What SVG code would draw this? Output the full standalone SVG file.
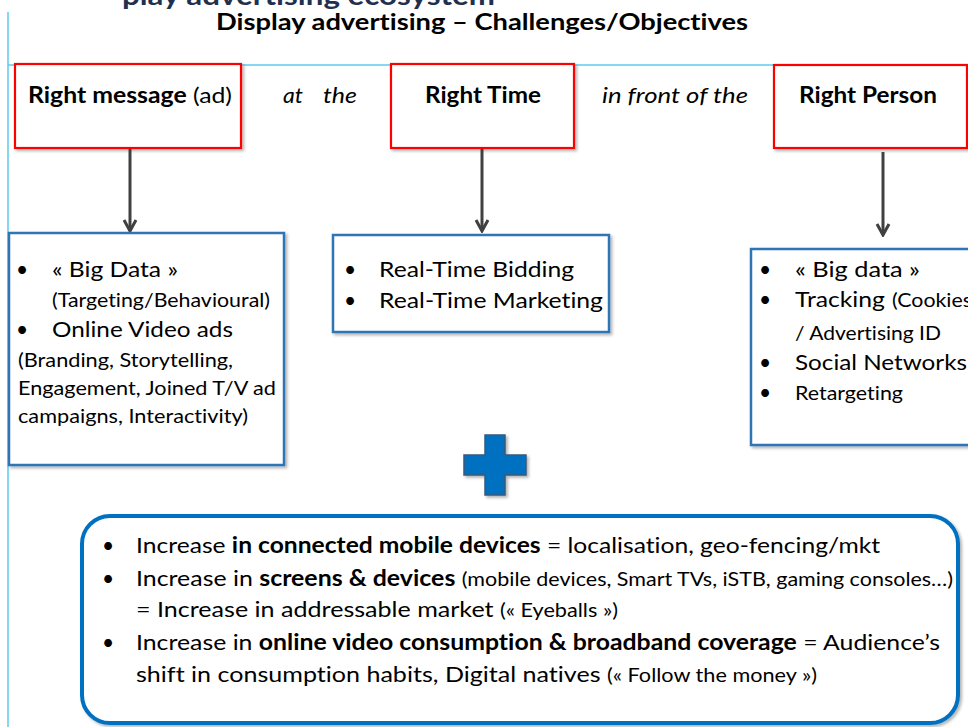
<svg xmlns="http://www.w3.org/2000/svg" width="968" height="727" viewBox="0 0 968 727">
<style>
text{font-family:"Lato","Liberation Sans",sans-serif;fill:#000;font-variant-ligatures:none;}
.b{font-weight:bold;}
.i{font-style:italic;}
.red{fill:#fff;stroke:#ff0000;stroke-width:2.2;}
.blue{fill:#fff;stroke:#2e75b6;stroke-width:2.5;}
.conn{stroke:#404040;stroke-width:3;fill:none;}
.guide{stroke:#5ccbf0;stroke-width:1.5;fill:none;}
.sm{font-size:18px;}
</style>
<defs>
<filter id="sh" x="-5%" y="-5%" width="115%" height="120%">
<feDropShadow dx="2" dy="2" stdDeviation="1.5" flood-color="#000" flood-opacity="0.3"/>
</filter>
<marker id="ah" viewBox="-14 -8 16 16" markerWidth="16" markerHeight="16" refX="0" refY="0" orient="auto" markerUnits="userSpaceOnUse">
<path d="M-11,-6 L0,0 L-11,6" fill="none" stroke="#404040" stroke-width="3"/>
</marker>
</defs>
<rect x="0" y="0" width="968" height="727" fill="#fff"/>

<!-- cut-off heading (as in the reference) and guides -->
<text x="122" y="5" class="b" font-size="26" style="fill:#1f3050" textLength="373" lengthAdjust="spacingAndGlyphs">play advertising ecosystem</text>
<line class="guide" x1="8" y1="12" x2="8" y2="727"/>
<line class="guide" x1="8" y1="65" x2="775" y2="65"/>

<g id="title">
<text x="216" y="30" class="b" font-size="23" textLength="532" lengthAdjust="spacingAndGlyphs">Display advertising – Challenges/Objectives</text>
</g>

<g id="right-message">
<rect class="red" x="15" y="64" width="226" height="84" filter="url(#sh)"/>
<text x="28" y="103" font-size="22" textLength="204" lengthAdjust="spacingAndGlyphs"><tspan class="b">Right message</tspan> (ad)</text>
</g>
<g id="label-at-the">
<text x="283" y="103" class="i" font-size="21" textLength="20" lengthAdjust="spacingAndGlyphs">at</text>
<text x="323" y="103" class="i" font-size="21" textLength="34" lengthAdjust="spacingAndGlyphs">the</text>
</g>
<g id="right-time">
<rect class="red" x="391" y="64" width="183" height="84" filter="url(#sh)"/>
<text x="425" y="103" class="b" font-size="22" textLength="116" lengthAdjust="spacingAndGlyphs">Right Time</text>
</g>
<g id="label-in-front">
<text x="602" y="103" class="i" font-size="21" textLength="146" lengthAdjust="spacingAndGlyphs">in front of the</text>
</g>
<g id="right-person">
<rect class="red" x="774" y="65" width="193" height="83" filter="url(#sh)"/>
<text x="799" y="103" class="b" font-size="22" textLength="138" lengthAdjust="spacingAndGlyphs">Right Person</text>
</g>

<g id="connectors">
<line class="conn" x1="130" y1="149" x2="130" y2="231" marker-end="url(#ah)"/>
<line class="conn" x1="482" y1="149" x2="482" y2="231" marker-end="url(#ah)"/>
<line class="conn" x1="883" y1="152" x2="883" y2="235" marker-end="url(#ah)"/>
</g>

<g id="message-box">
<rect class="blue" x="9" y="233" width="275" height="232" filter="url(#sh)"/>
<text x="22" y="277" font-size="21" text-anchor="middle">•</text>
<text x="52" y="277" font-size="21" textLength="126" lengthAdjust="spacingAndGlyphs">« Big Data »</text>
<text x="52" y="307" font-size="19" textLength="218" lengthAdjust="spacingAndGlyphs">(Targeting/Behavioural)</text>
<text x="22" y="337" font-size="21" text-anchor="middle">•</text>
<text x="52" y="337" font-size="22" textLength="181" lengthAdjust="spacingAndGlyphs">Online Video ads</text>
<text x="18" y="367" font-size="19" textLength="215" lengthAdjust="spacingAndGlyphs">(Branding, Storytelling,</text>
<text x="18" y="395" font-size="19" textLength="258" lengthAdjust="spacingAndGlyphs">Engagement, Joined T/V ad</text>
<text x="18" y="423" font-size="19" textLength="230" lengthAdjust="spacingAndGlyphs">campaigns, Interactivity)</text>
</g>

<g id="time-box">
<rect class="blue" x="333" y="235" width="276" height="97" filter="url(#sh)"/>
<text x="350" y="277" font-size="21" text-anchor="middle">•</text>
<text x="379" y="277" font-size="21" textLength="195" lengthAdjust="spacingAndGlyphs">Real-Time Bidding</text>
<text x="350" y="308" font-size="21" text-anchor="middle">•</text>
<text x="379" y="308" font-size="21" textLength="224" lengthAdjust="spacingAndGlyphs">Real-Time Marketing</text>
</g>

<g id="person-box">
<rect class="blue" x="751" y="249" width="230" height="196" filter="url(#sh)"/>
<text x="765" y="277" font-size="21" text-anchor="middle">•</text>
<text x="795" y="277" font-size="21" textLength="125" lengthAdjust="spacingAndGlyphs">« Big data »</text>
<text x="765" y="307" font-size="21" text-anchor="middle">•</text>
<text x="795" y="307" font-size="21" textLength="90" lengthAdjust="spacingAndGlyphs">Tracking</text>
<text x="892" y="307" font-size="19" textLength="80" lengthAdjust="spacingAndGlyphs">(Cookies</text>
<text x="795" y="340" font-size="19" textLength="146" lengthAdjust="spacingAndGlyphs">/ Advertising ID</text>
<text x="765" y="370" font-size="21" text-anchor="middle">•</text>
<text x="795" y="370" font-size="21" textLength="172" lengthAdjust="spacingAndGlyphs">Social Networks</text>
<text x="765" y="400" font-size="21" text-anchor="middle">•</text>
<text x="795" y="400" font-size="19" textLength="108" lengthAdjust="spacingAndGlyphs">Retargeting</text>
</g>

<g id="plus">
<path d="M485,435 H505 V455 H526 V475 H505 V495 H485 V475 H464 V455 H485 Z" fill="#0070c0" stroke="#3a5a7a" stroke-width="1.5" filter="url(#sh)"/>
</g>

<g id="drivers-box">
<rect x="82" y="516" width="876" height="207" rx="28" ry="28" fill="#fff" stroke="#0070c0" stroke-width="4" filter="url(#sh)"/>
<text x="108" y="553" font-size="21" text-anchor="middle">•</text>
<text x="136" y="553" font-size="22" textLength="744" lengthAdjust="spacingAndGlyphs">Increase <tspan class="b">in connected mobile devices</tspan> = localisation, geo-fencing/mkt</text>
<text x="108" y="586" font-size="21" text-anchor="middle">•</text>
<text x="136" y="586" font-size="22" textLength="817" lengthAdjust="spacingAndGlyphs">Increase in <tspan class="b">screens &amp; devices</tspan> <tspan font-size="19">(mobile devices, Smart TVs, iSTB, gaming consoles…)</tspan></text>
<text x="136" y="617" font-size="22" textLength="482" lengthAdjust="spacingAndGlyphs">= Increase in addressable market <tspan font-size="19">(« Eyeballs »)</tspan></text>
<text x="108" y="650" font-size="21" text-anchor="middle">•</text>
<text x="136" y="650" font-size="22" textLength="804" lengthAdjust="spacingAndGlyphs">Increase in <tspan class="b">online video consumption &amp; broadband coverage</tspan> = Audience’s</text>
<text x="136" y="682" font-size="22" textLength="681" lengthAdjust="spacingAndGlyphs">shift in consumption habits, Digital natives <tspan font-size="19">(« Follow the money »)</tspan></text>
</g>
</svg>
